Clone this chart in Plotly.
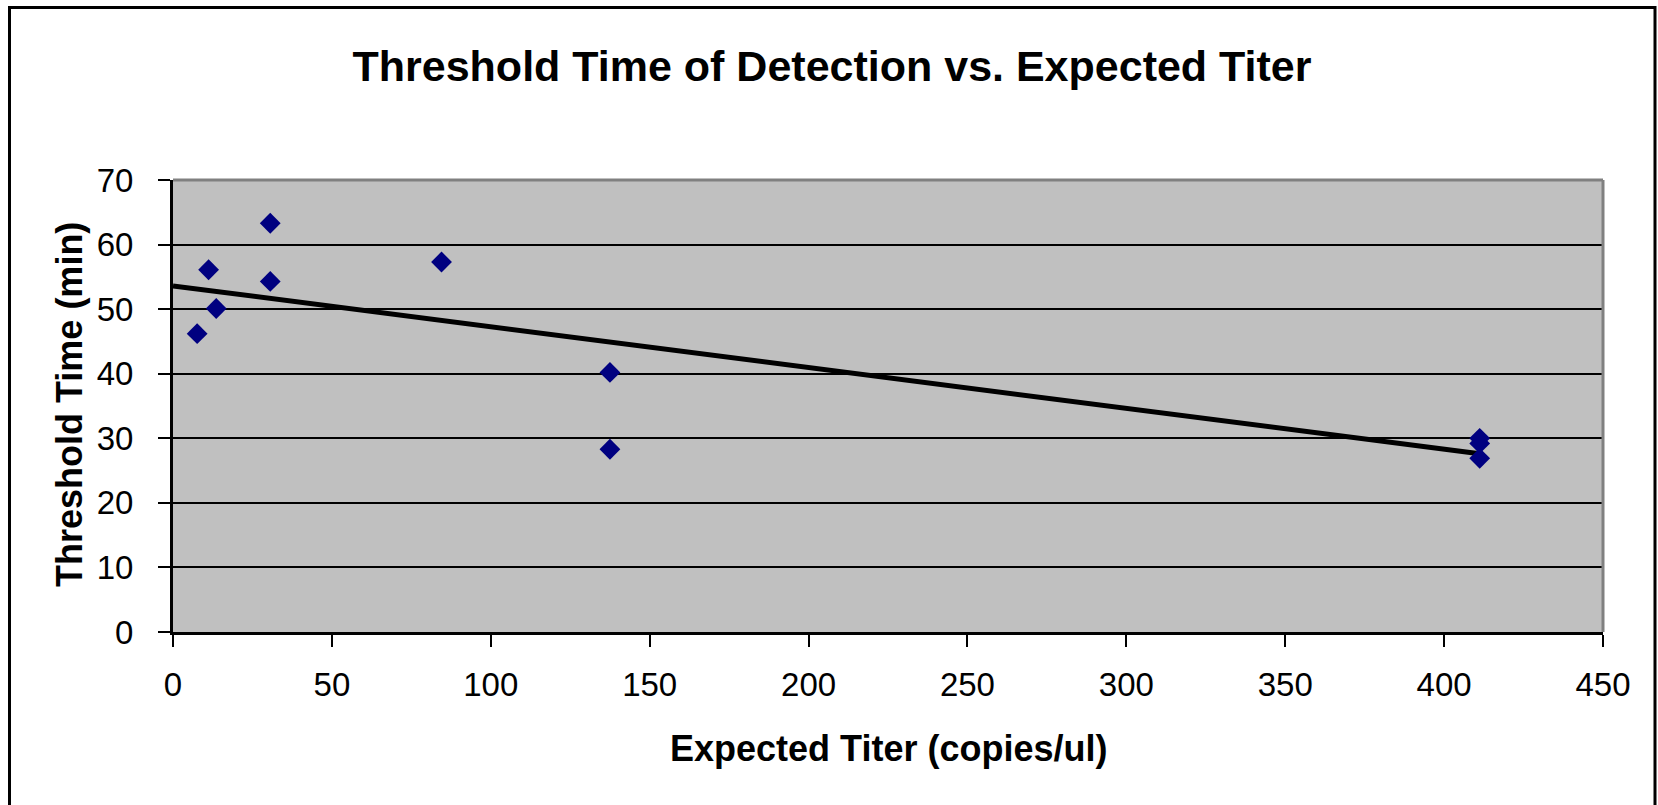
import plotly.graph_objects as go

# Data
titer = [7.6, 11.2, 13.6, 30.6, 30.6, 84.5, 137.5, 137.5, 411.2, 411.2, 411.2]
threshold_time = [46.2, 56.1, 50.1, 63.3, 54.3, 57.3, 40.2, 28.3, 30.0, 29.2, 26.9]
trend_x = [0, 411.2]
trend_y = [53.6, 27.6]
x_ticks = [0, 50, 100, 150, 200, 250, 300, 350, 400, 450]
y_ticks = [0, 10, 20, 30, 40, 50, 60, 70]

FONT = "Liberation Sans, Arial, sans-serif"

fig = go.Figure()
fig.add_trace(go.Scatter(
    x=trend_x, y=trend_y, mode="lines",
    line=dict(color="black", width=5),
    showlegend=False,
))
fig.add_trace(go.Scatter(
    x=titer, y=threshold_time, mode="markers",
    marker=dict(symbol="diamond", size=16, color="#000080", line=dict(width=0)),
    showlegend=False, cliponaxis=False,
))

L, R, T, B = 173, 55, 180, 173
W, H = 1658, 805
pw, ph = W - L - R, H - T - B

def px_to_paper_x(px):
    return (px - L) / pw

def px_to_paper_y(py):
    return (H - B - py) / ph

fig.update_layout(
    width=W, height=H,
    margin=dict(l=L, r=R, t=T, b=B, autoexpand=False),
    paper_bgcolor="white",
    plot_bgcolor="#C0C0C0",
    font=dict(family=FONT, color="black", size=33),
    title=dict(
        text="<b>Threshold Time of Detection vs. Expected Titer</b>",
        font=dict(family=FONT, size=43, color="black"),
        x=832 / W, xref="container", xanchor="center",
        y=1 - 66 / H, yref="container", yanchor="middle",
    ),
    xaxis=dict(
        range=[0, 450], tickvals=x_ticks, ticktext=[str(v) for v in x_ticks],
        showgrid=False, zeroline=False,
        showline=True, linecolor="black", linewidth=3,
        ticks="outside", ticklen=12, tickwidth=2, tickcolor="black",
        tickfont=dict(family=FONT, size=33, color="black"),
        ticklabelstandoff=9,
        fixedrange=True,
    ),
    yaxis=dict(
        range=[0, 70], tickvals=y_ticks, ticktext=[str(v) for v in y_ticks],
        showgrid=True, gridcolor="black", gridwidth=2,
        zeroline=False,
        showline=True, linecolor="black", linewidth=3,
        ticks="outside", ticklen=12, tickwidth=2, tickcolor="black",
        tickfont=dict(family=FONT, size=33, color="black"),
        ticklabelstandoff=18,
        fixedrange=True,
    ),
    shapes=[
        dict(type="line", xref="paper", yref="paper", x0=0, x1=1, y0=1, y1=1,
             line=dict(color="#808080", width=3), layer="above"),
        dict(type="line", xref="paper", yref="paper", x0=1, x1=1, y0=0, y1=1,
             line=dict(color="#808080", width=3), layer="above"),
        dict(type="rect", xref="paper", yref="paper",
             x0=px_to_paper_x(9.5), x1=px_to_paper_x(1655),
             y0=px_to_paper_y(812), y1=px_to_paper_y(7.5),
             line=dict(color="black", width=3), fillcolor="rgba(0,0,0,0)", layer="above"),
    ],
    annotations=[
        dict(text="<b>Expected Titer (copies/ul)</b>", xref="paper", yref="paper",
             x=0.5, y=px_to_paper_y(748), xanchor="center", yanchor="middle",
             showarrow=False, font=dict(family=FONT, size=36, color="black")),
        dict(text="<b>Threshold Time (min)</b>", xref="paper", yref="paper",
             x=px_to_paper_x(69), y=px_to_paper_y(405), xanchor="center", yanchor="middle",
             textangle=-90, showarrow=False, font=dict(family=FONT, size=36, color="black")),
    ],
)

fig.write_html("out.html")
